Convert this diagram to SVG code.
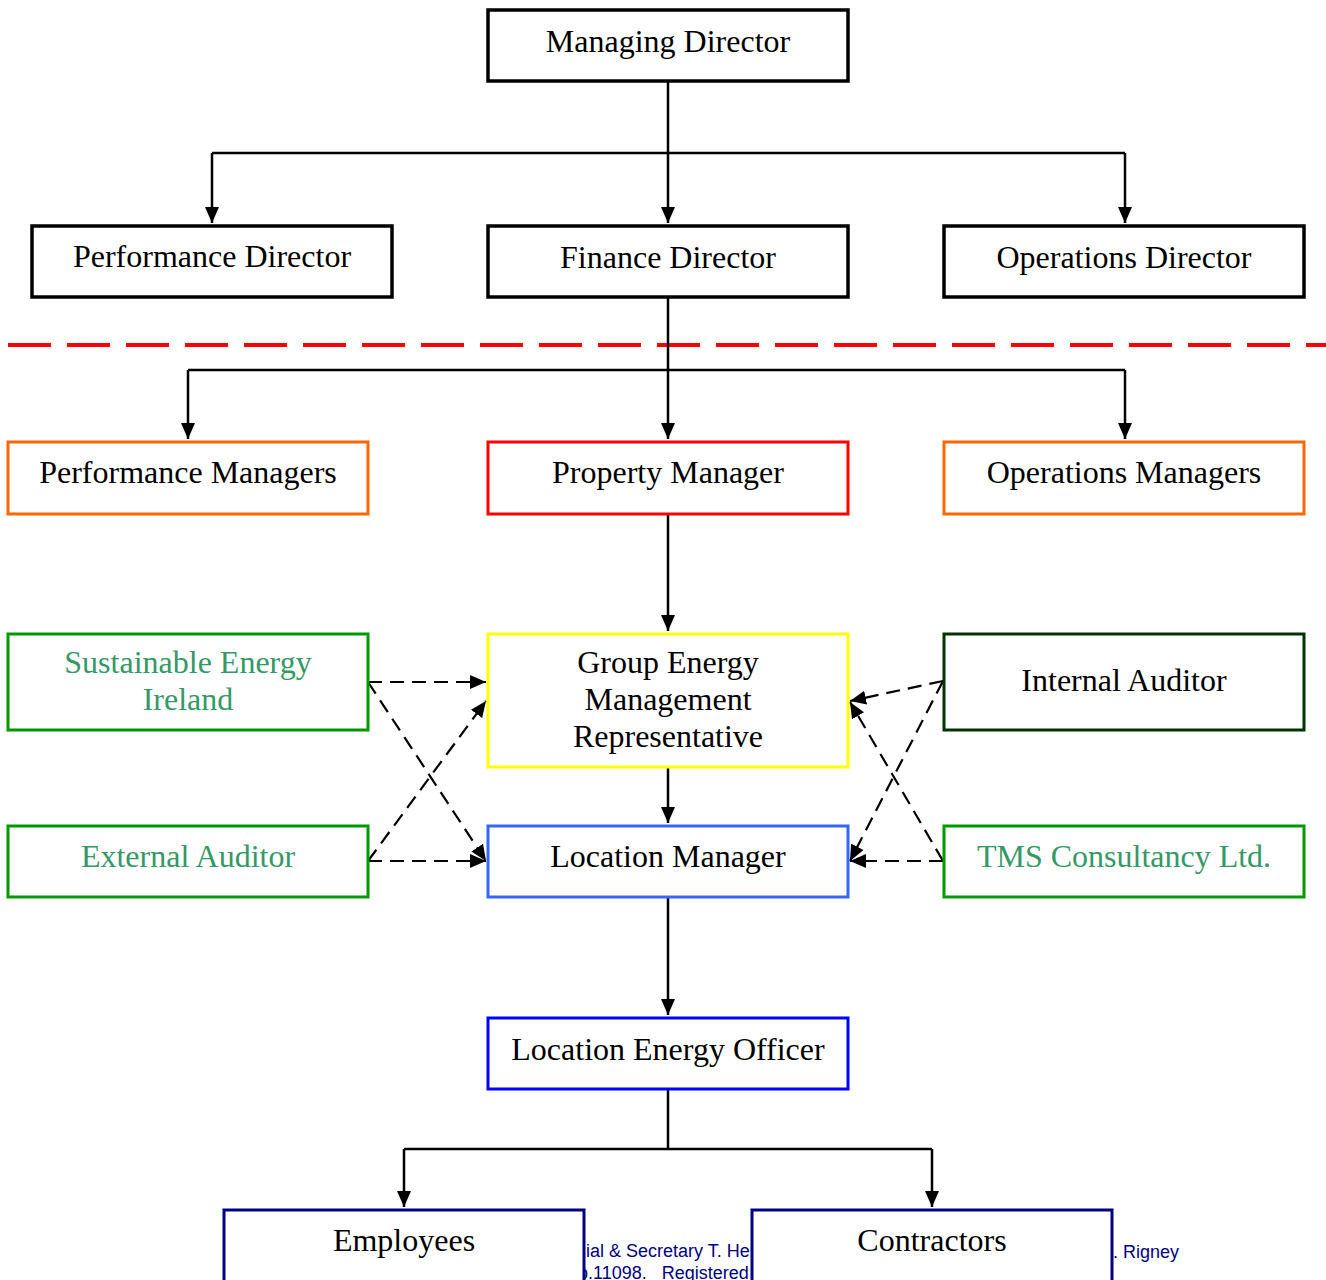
<svg xmlns="http://www.w3.org/2000/svg" width="1326" height="1280" viewBox="0 0 1326 1280">
<style>
.box{fill:#fff;stroke-width:3}
.k{stroke-width:3.5}
.t{font-family:"Liberation Serif","Times New Roman",serif;font-size:32px;text-anchor:middle;fill:#000}
.g{fill:#339966}
.c{fill:none;stroke:#000;stroke-width:2.5}
.d{fill:none;stroke:#000;stroke-width:2.2;stroke-dasharray:14 8}
.f{font-family:"Liberation Sans",Arial,sans-serif;font-size:18px;fill:#000080}
</style>
<defs>
<marker id="ah" markerUnits="userSpaceOnUse" markerWidth="16" markerHeight="14" refX="16" refY="7" orient="auto">
<path d="M0,0 L16,7 L0,14 z" fill="#000"/>
</marker>
</defs>
<rect width="1326" height="1280" fill="#fff"/>
<line x1="8" y1="345" x2="1326" y2="345" stroke="#ff0000" stroke-width="4" stroke-dasharray="43 16"/>
<text class="f" x="586" y="1257">ial &amp; Secretary T. He</text>
<text class="f" x="578" y="1279" xml:space="preserve">b.11098.   Registered</text>
<text class="f" x="1113" y="1258">. Rigney</text>
<g id="connectors">
<path class="c" d="M668,81 V223" marker-end="url(#ah)"/>
<path class="c" d="M212,153 H1125"/>
<path class="c" d="M212,153 V223" marker-end="url(#ah)"/>
<path class="c" d="M1125,153 V223" marker-end="url(#ah)"/>
<path class="c" d="M668,297 V439" marker-end="url(#ah)"/>
<path class="c" d="M188,370 H1125"/>
<path class="c" d="M188,370 V439" marker-end="url(#ah)"/>
<path class="c" d="M1125,370 V439" marker-end="url(#ah)"/>
<path class="c" d="M668,514 V631" marker-end="url(#ah)"/>
<path class="c" d="M668,767 V823" marker-end="url(#ah)"/>
<path class="c" d="M668,897 V1015" marker-end="url(#ah)"/>
<path class="c" d="M668,1089 V1149"/>
<path class="c" d="M404,1149 H932"/>
<path class="c" d="M404,1149 V1207" marker-end="url(#ah)"/>
<path class="c" d="M932,1149 V1207" marker-end="url(#ah)"/>
<path class="d" d="M368,682 H486" marker-end="url(#ah)"/>
<path class="d" d="M368,682 L486,861" marker-end="url(#ah)"/>
<path class="d" d="M368,861 L486,701" marker-end="url(#ah)"/>
<path class="d" d="M368,861 H486" marker-end="url(#ah)"/>
<path class="d" d="M943,681 L850,701" marker-end="url(#ah)"/>
<path class="d" d="M943,681 L850,861" marker-end="url(#ah)"/>
<path class="d" d="M943,861 L850,702" marker-end="url(#ah)"/>
<path class="d" d="M943,861 H850" marker-end="url(#ah)"/>
</g>
<g id="managing-director"><rect class="box k" x="488" y="10" width="360" height="71" stroke="#000"/><text class="t" x="668" y="52">Managing Director</text></g>
<g id="performance-director"><rect class="box k" x="32" y="226" width="360" height="71" stroke="#000"/><text class="t" x="212" y="267">Performance Director</text></g>
<g id="finance-director"><rect class="box k" x="488" y="226" width="360" height="71" stroke="#000"/><text class="t" x="668" y="268">Finance Director</text></g>
<g id="operations-director"><rect class="box k" x="944" y="226" width="360" height="71" stroke="#000"/><text class="t" x="1124" y="268">Operations Director</text></g>
<g id="performance-managers"><rect class="box" x="8" y="442" width="360" height="72" stroke="#ff6600"/><text class="t" x="188" y="483">Performance Managers</text></g>
<g id="property-manager"><rect class="box" x="488" y="442" width="360" height="72" stroke="#ff0000"/><text class="t" x="668" y="483">Property Manager</text></g>
<g id="operations-managers"><rect class="box" x="944" y="442" width="360" height="72" stroke="#ff6600"/><text class="t" x="1124" y="483">Operations Managers</text></g>
<g id="sei"><rect class="box" x="8" y="634" width="360" height="96" stroke="#009900"/><text class="t g" x="188" y="673">Sustainable Energy</text><text class="t g" x="188" y="710">Ireland</text></g>
<g id="gemr"><rect class="box" x="488" y="634" width="360" height="133" stroke="#ffff00"/><text class="t" x="668" y="673">Group Energy</text><text class="t" x="668" y="710">Management</text><text class="t" x="668" y="747">Representative</text></g>
<g id="internal-auditor"><rect class="box" x="944" y="634" width="360" height="96" stroke="#003300"/><text class="t" x="1124" y="691">Internal Auditor</text></g>
<g id="external-auditor"><rect class="box" x="8" y="826" width="360" height="71" stroke="#009900"/><text class="t g" x="188" y="867">External Auditor</text></g>
<g id="location-manager"><rect class="box" x="488" y="826" width="360" height="71" stroke="#3366ff"/><text class="t" x="668" y="867">Location Manager</text></g>
<g id="tms"><rect class="box" x="944" y="826" width="360" height="71" stroke="#009900"/><text class="t g" x="1124" y="867">TMS Consultancy Ltd.</text></g>
<g id="location-energy-officer"><rect class="box" x="488" y="1018" width="360" height="71" stroke="#0000ff"/><text class="t" x="668" y="1060">Location Energy Officer</text></g>
<g id="employees"><rect class="box" x="224" y="1210" width="360" height="100" stroke="#000080"/><text class="t" x="404" y="1251">Employees</text></g>
<g id="contractors"><rect class="box" x="752" y="1210" width="360" height="100" stroke="#000080"/><text class="t" x="932" y="1251">Contractors</text></g>
</svg>
